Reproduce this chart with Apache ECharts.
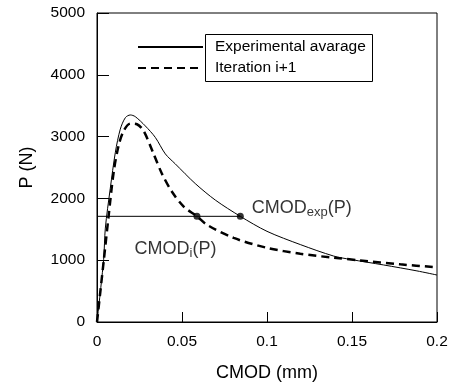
<!DOCTYPE html>
<html><head><meta charset="utf-8">
<script src="https://cdn.jsdelivr.net/npm/echarts@6/dist/echarts.min.js"></script>
<style>html,body{margin:0;padding:0;background:#fff}#c{width:451px;height:387px}</style>
</head><body><div id="c"></div>
<script>
// Experimental average: [CMOD (mm), P (N)]
var expX = [0, 0.0039, 0.0049, 0.0078, 0.0108, 0.0137, 0.0167, 0.0196, 0.0225, 0.0284, 0.0343, 0.0402, 0.0460, 0.0578, 0.0696, 0.0843, 0.1000, 0.1196, 0.1392, 0.1490, 0.1686, 0.1882, 0.2000];
var expY = [0, 1010, 1520, 2160, 2747, 3120, 3307, 3350, 3323, 3173, 2987, 2720, 2560, 2240, 1973, 1710, 1467, 1253, 1067, 1013, 923, 827, 760];
// Iteration i+1
var itX = [0, 0.0040, 0.0068, 0.0098, 0.0127, 0.0157, 0.0196, 0.0235, 0.0274, 0.0333, 0.0382, 0.0441, 0.0510, 0.0588, 0.0647, 0.0804, 0.1000, 0.1196, 0.1392, 0.1549, 0.1784, 0.2000];
var itY = [0, 1000, 1707, 2427, 2853, 3093, 3211, 3200, 3093, 2720, 2400, 2107, 1867, 1710, 1573, 1360, 1200, 1104, 1040, 997, 933, 885];
// horizontal line at load P and the two marked CMOD points
var levelP = 1710;
var cmodI = 0.0588, cmodExp = 0.0843;
var seriesNames = ['Experimental avarage', 'Iteration i+1'];
var xTicks = [0, 0.05, 0.1, 0.15, 0.2];
var yTicks = [0, 1000, 2000, 3000, 4000, 5000];

function zip(a, b) { return a.map(function (v, i) { return [v, b[i]]; }); }
var FONT = 'Liberation Sans';
var richStyle = {
  a: {fontSize: 18, lineHeight: 22, color: '#000', fontFamily: FONT},
  b: {fontSize: 13, lineHeight: 12, verticalAlign: 'bottom', color: '#000', fontFamily: FONT}
};
var chart = echarts.init(document.getElementById('c'), null, {renderer: 'canvas'});
chart.setOption({
  animation: false,
  backgroundColor: '#fff',
  textStyle: {fontFamily: FONT, color: '#000'},
  grid: {left: 97, right: 14, top: 13, bottom: 62, show: true, borderColor: '#000', borderWidth: 1},
  legend: {
    orient: 'vertical', left: 132, top: 34, itemWidth: 65, itemHeight: 14, itemGap: 5,
    data: seriesNames,
    itemStyle: {opacity: 0},
    textStyle: {fontSize: 15.5, color: '#000', fontFamily: FONT, padding: [0, 0, 0, 7]},
    inactiveColor: '#000'
  },
  graphic: [{type: 'rect', left: 203, top: 32, shape: {width: 167, height: 47}, style: {fill: 'none', stroke: '#000', lineWidth: 1}, z: 100}],
  xAxis: {
    type: 'value', min: xTicks[0], max: xTicks[xTicks.length - 1], interval: xTicks[1] - xTicks[0],
    name: 'CMOD (mm)', nameLocation: 'middle', nameGap: 42,
    nameTextStyle: {fontSize: 18, color: '#000', fontFamily: FONT},
    axisLine: {lineStyle: {color: '#000', width: 1}},
    axisTick: {inside: true, length: 10, lineStyle: {color: '#000'}},
    axisLabel: {fontSize: 15.5, color: '#000', margin: 12, formatter: function (v) { return String(+v.toFixed(2)); }},
    splitLine: {show: false}
  },
  yAxis: {
    type: 'value', min: yTicks[0], max: yTicks[yTicks.length - 1], interval: yTicks[1] - yTicks[0],
    name: 'P (N)', nameLocation: 'middle', nameGap: 61,
    nameTextStyle: {fontSize: 18, color: '#000', fontFamily: FONT},
    axisLine: {lineStyle: {color: '#000', width: 1}},
    axisTick: {inside: true, length: 12, lineStyle: {color: '#000'}},
    axisLabel: {fontSize: 15.5, color: '#000', margin: 12, formatter: function (v) { return String(v); }},
    splitLine: {show: false}
  },
  series: [
    {name: seriesNames[0], type: 'line', data: zip(expX, expY), symbol: 'none', smooth: 0.3,
     lineStyle: {color: '#000', width: 1}, itemStyle: {color: '#000'}, z: 3},
    {name: seriesNames[1], type: 'line', data: zip(itX, itY), symbol: 'none', smooth: 0.3,
     lineStyle: {color: '#000', width: 2.5, type: [8, 5]}, itemStyle: {color: '#000'}, z: 2},
    {name: 'level', type: 'line', data: [[0, levelP], [cmodExp, levelP]], symbol: 'none',
     lineStyle: {color: '#000', width: 1}, z: 3},
    {name: 'points', type: 'scatter', symbolSize: 7, itemStyle: {color: '#000'}, z: 5,
     data: [
       {value: [cmodI, levelP], label: {show: true, position: 'left', offset: [28, 33], formatter: '{a|CMOD}{b|i}{a|(P)}', rich: richStyle}},
       {value: [cmodExp, levelP], label: {show: true, position: 'right', offset: [3, -8], formatter: '{a|CMOD}{b|exp}{a|(P)}', rich: richStyle}}
     ]}
  ]
});
</script></body></html>
